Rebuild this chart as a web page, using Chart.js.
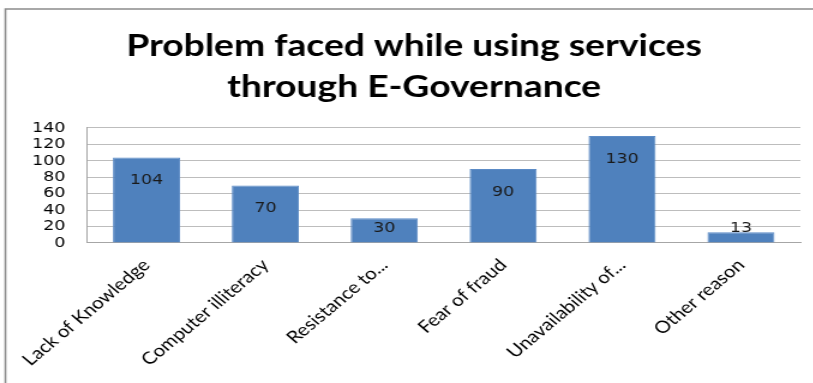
<!DOCTYPE html>
<html>
<head>
<meta charset="utf-8">
<script src="https://cdn.jsdelivr.net/npm/chart.js@4/dist/chart.umd.min.js"></script>
<style>
  html, body { margin: 0; padding: 0; background: #fff; overflow: hidden; }
  /* the source picture is a pasted office chart that was stretched sideways */
  #problemChart { display: block; transform: scaleX(1.2); transform-origin: 0 0; }
</style>
</head>
<body>
<canvas id="problemChart" width="678" height="383"></canvas>
<script>
const categories = ['Lack of Knowledge', 'Computer illiteracy', 'Resistance to...', 'Fear of fraud', 'Unavailability of...', 'Other reason'];
const responses = [104, 70, 30, 90, 130, 13];
const yTicks = [0, 20, 40, 60, 80, 100, 120, 140];
const titleLines = ['Problem faced while using services', 'through E-Governance'];

// outer frame: only left and top edges show in the source
const framePlugin = {
    id: 'frame',
    beforeDraw(chart) {
        const c = chart.ctx;
        c.save();
        c.fillStyle = '#fff';
        c.fillRect(0, 0, chart.width, chart.height);
        c.strokeStyle = '#8c8c8c';
        c.lineWidth = 1.6;
        c.beginPath();
        c.moveTo(4.5, chart.height);
        c.lineTo(4.5, 9);
        c.lineTo(chart.width, 9);
        c.stroke();
        c.restore();
    }
};

// value labels just inside the top of each bar
const valueLabels = {
    id: 'valueLabels',
    afterDatasetsDraw(chart) {
        const c = chart.ctx;
        const meta = chart.getDatasetMeta(0);
        const base = chart.scales.y.getPixelForValue(0);
        c.save();
        c.font = '14.5px "DejaVu Sans"';
        c.fillStyle = '#1a1a1a';
        c.textAlign = 'center';
        c.textBaseline = 'middle';
        meta.data.forEach((bar, i) => {
            let y = Math.min(bar.y + 23, base - 15);
            c.fillText(String(responses[i]), bar.x, y);
        });
        c.restore();
    }
};

new Chart(document.getElementById('problemChart').getContext('2d'), {
    type: 'bar',
    data: {
        labels: categories,
        datasets: [{
            label: 'Respondents',
            data: responses,
            backgroundColor: '#4F81BD',
            borderColor: '#5B8BC6',
            borderWidth: 1,
            categoryPercentage: 1,
            barPercentage: 0.564
        }]
    },
    options: {
        responsive: false,
        animation: false,
        layout: { padding: { left: 23, right: 11, top: 0, bottom: 0 } },
        plugins: {
            legend: { display: false },
            tooltip: { enabled: false },
            title: {
                display: true,
                text: titleLines,
                color: '#000',
                font: { family: 'Lato', size: 31, weight: 'bold', lineHeight: 1.32 },
                padding: { top: 26, bottom: 20 }
            }
        },
        scales: {
            y: {
                min: 0,
                max: 140,
                afterBuildTicks(scale) {
                    scale.ticks = yTicks.map(v => ({ value: v }));
                },
                afterFit(scale) { scale.width = 49.5; },
                ticks: {
                    color: '#000',
                    padding: 18,
                    autoSkip: false,
                    font: { family: '"DejaVu Sans"', size: 14.5 }
                },
                grid: { color: '#bdbdbd', drawTicks: false },
                border: { display: true, color: '#a6a6a6' }
            },
            x: {
                afterFit(scale) { scale.height = 140; },
                ticks: {
                    color: '#000',
                    minRotation: 45,
                    maxRotation: 45,
                    autoSkip: false,
                    padding: 12,
                    font: { family: 'Lato', size: 17 }
                },
                grid: { display: false, drawTicks: false },
                border: { display: true, color: '#a6a6a6' }
            }
        }
    },
    plugins: [framePlugin, valueLabels]
});
</script>
</body>
</html>
